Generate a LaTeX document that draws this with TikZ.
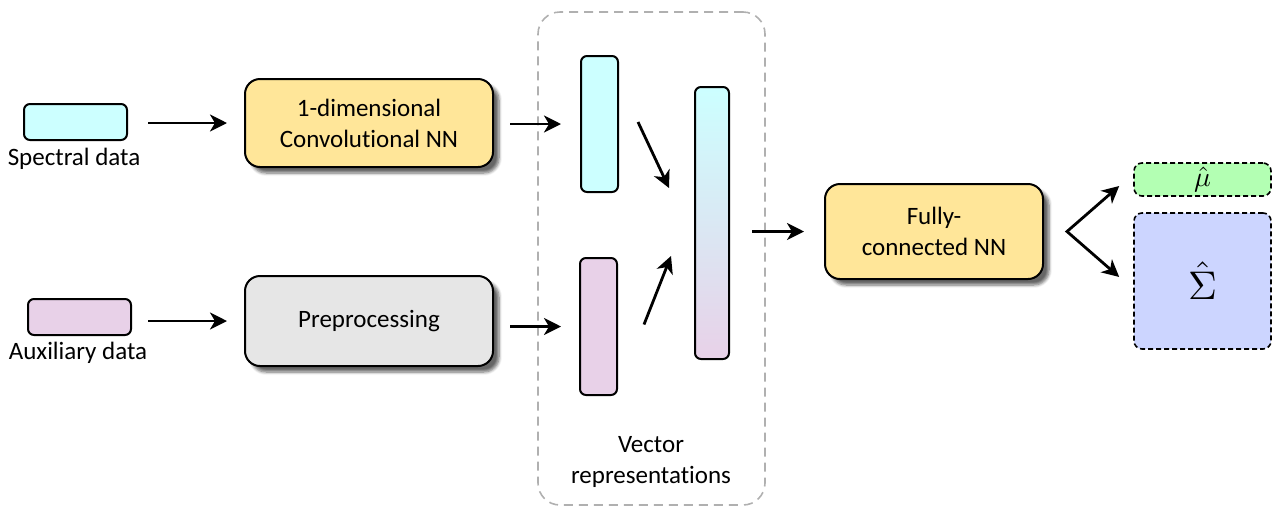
\documentclass[tikz,border=0pt]{standalone}
\usepackage{fontspec}
\setmainfont{Carlito}[Ligatures=NoCommon]
\usetikzlibrary{arrows.meta,shadows,shadows.blur}

\definecolor{cyanfill}{HTML}{CCFFFF}
\definecolor{lilacfill}{HTML}{E8D1E8}
\definecolor{yellowfill}{HTML}{FFE699}
\definecolor{greyfill}{HTML}{E6E6E6}
\definecolor{greenfill}{HTML}{B3FFB3}
\definecolor{bluefill}{HTML}{CCD5FF}
\definecolor{framegrey}{HTML}{B0B0B0}

\tikzset{
  x=1pt, y=1pt,
  every node/.style={font=\fontsize{25}{31}\selectfont, align=center, inner sep=0pt},
  inbox/.style={draw=black, line width=2pt, rounded corners=6pt},
  netbox/.style={draw=black, line width=2pt, rounded corners=15pt, fill=yellowfill,
    blur shadow={shadow xshift=6pt, shadow yshift=-6pt, shadow opacity=60,
      shadow blur radius=3pt, shadow blur steps=6}},
  vecbox/.style={draw=black, line width=2pt, rounded corners=6pt},
  outbox/.style={draw=black, line width=1.6pt, dash pattern=on 5pt off 3pt, rounded corners=8pt, font=\normalsize},
  groupframe/.style={draw=framegrey, line width=1.6pt, dash pattern=on 9pt off 6pt, rounded corners=22pt},
  tip/.tip={Stealth[length=17pt,width=17pt,inset=5pt]},
  arr/.style={line width=2.8pt, -tip},
  twoarr/.style={line width=2.8pt, tip-tip}
}

\begin{document}
\begin{tikzpicture}
\useasboundingbox (0,0) rectangle (1273,-507);

% grouping frame around the vector representations
\node[groupframe, minimum width=227pt, minimum height=493pt] (frame) at (651.5,-258.5) {};
\node (framelbl) at (651,-462) {Vector\\representations};

% inputs
\node[inbox, fill=cyanfill, minimum width=103pt, minimum height=36pt] (spec) at (75.5,-122) {};
\node (speclbl) at (74,-159) {Spectral data};
\node[inbox, fill=lilacfill, minimum width=103pt, minimum height=36pt] (aux) at (79.5,-317) {};
\node (auxlbl) at (78,-353) {Auxiliary data};

% processing blocks
\node[netbox, minimum width=248pt, minimum height=88pt] (conv) at (369,-123) {1-dimensional\\Convolutional NN};
\node[netbox, fill=greyfill, minimum width=248pt, minimum height=90pt] (pre) at (369,-321) {Preprocessing};

% vectors
\node[vecbox, fill=cyanfill, minimum width=37pt, minimum height=136pt] (vec1) at (599.5,-124) {};
\node[vecbox, fill=lilacfill, minimum width=37pt, minimum height=137pt] (vec2) at (598.5,-326.5) {};
\node[vecbox, top color=cyanfill, bottom color=lilacfill, minimum width=34pt, minimum height=272pt] (vecc) at (712,-223) {};

% fully connected network
\node[netbox, minimum width=218pt, minimum height=95pt] (fc) at (934,-231.5) {Fully-\\connected NN};

% outputs
\node[outbox, fill=greenfill, minimum width=137pt, minimum height=33pt] (mu) at (1202.5,-179.5) {\scalebox{2.8}{$\hat{\mu}$}};
\node[outbox, fill=bluefill, minimum width=137pt, minimum height=136pt] (sig) at (1202.5,-281) {\scalebox{4}{$\hat{\Sigma}$}};

% connectors
\draw[arr, shorten <=20pt, shorten >=17pt] (spec.east |- conv.west) -- (conv.west);
\draw[arr, shorten <=16pt, shorten >=17pt] (aux.east |- pre.west) -- (pre.west);
\draw[arr, shorten <=16pt, shorten >=19pt] (conv.east |- vec1.west) -- (vec1.west);
\draw[arr, shorten <=16pt, shorten >=18pt] (pre.east |- vec2.west) -- (vec2.west);
\draw[arr] ([shift={(19,2)}]vec1.east) -- ([shift={(-25,35)}]vecc.west);
\draw[arr] ([shift={(26,2)}]vec2.east) -- ([shift={(-23,-33)}]vecc.west);
\draw[arr, shorten <=22pt, shorten >=20pt] (vecc.east |- fc.west) -- (fc.west);
\draw[twoarr] ([shift={(-14,-6.5)}]mu.west) -- ([xshift=23pt]fc.east) -- ([shift={(-14,4)}]sig.west);
\end{tikzpicture}
\end{document}
